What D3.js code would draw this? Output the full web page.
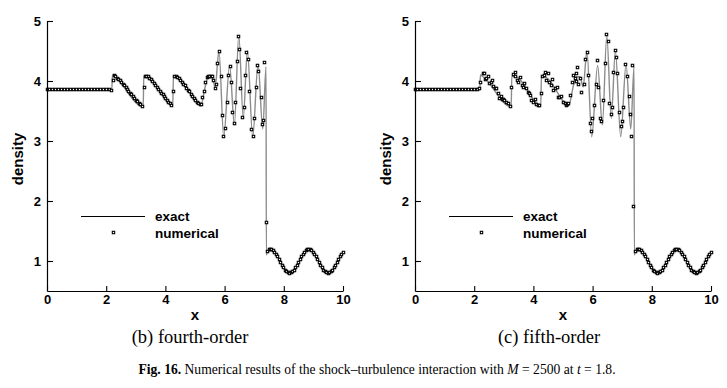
<!DOCTYPE html>
<html><head><meta charset="utf-8">
<script src="https://cdn.jsdelivr.net/npm/d3@7"></script>
<style>body{margin:0;background:#fff}svg{display:block}</style>
</head><body>
<script>
// ---- Data ----
const xTicks = [0, 2, 4, 6, 8, 10];
const yTicks = [1, 2, 3, 4, 5];
const xMinor = [0.5, 1, 1.5, 2.5, 3, 3.5, 4.5, 5, 5.5, 6.5, 7, 7.5, 8.5, 9, 9.5];
const yMinor = [0.6, 0.8, 1.2, 1.4, 1.6, 1.8, 2.2, 2.4, 2.6, 2.8, 3.2, 3.4, 3.6, 3.8, 4.2, 4.4, 4.6, 4.8];
const captions = ["(b) fourth-order", "(c) fifth-order"];
const legendLabels = ["exact", "numerical"];

// exact solution (shared by both panels)
const exactX = [0, 2.19, 2.21, 2.30, 3.25, 3.27, 3.42, 4.25, 4.27, 4.42, 5.17, 5.22, 5.30, 5.38, 5.45, 5.57, 5.68, 5.81, 5.97, 6.17, 6.33, 6.48, 6.63, 6.77, 6.95, 7.13, 7.29, 7.40, 7.41, 7.45, 7.55, 7.71, 7.875, 8.04, 8.2, 8.36, 8.525, 8.69, 8.85, 9.01, 9.175, 9.34, 9.5, 9.66, 9.825, 10];
const exactY = [3.857, 3.857, 4.10, 4.07, 3.57, 4.08, 4.07, 3.59, 4.07, 4.06, 3.61, 3.62, 3.80, 3.98, 4.07, 4.07, 3.90, 4.50, 3.07, 4.26, 3.27, 4.76, 3.38, 4.50, 3.07, 4.28, 3.20, 4.24, 1.10, 1.16, 1.20, 1.14, 1.00, 0.86, 0.80, 0.86, 1.00, 1.14, 1.20, 1.14, 1.00, 0.86, 0.80, 0.86, 1.00, 1.15];

// numerical: pre-shock constant state (both panels)
const flatX = [0, 0.1, 0.2, 0.3, 0.4, 0.5, 0.6, 0.7, 0.8, 0.9, 1.0, 1.1, 1.2, 1.3, 1.4, 1.5, 1.6, 1.7, 1.8, 1.9, 2.0, 2.1];
const flatY = [3.857, 3.857, 3.857, 3.857, 3.857, 3.857, 3.857, 3.857, 3.857, 3.857, 3.857, 3.857, 3.857, 3.857, 3.857, 3.857, 3.857, 3.857, 3.857, 3.857, 3.857, 3.857];

// numerical: downstream of shock (both panels)
const postX = [7.45, 7.5, 7.55, 7.6, 7.65, 7.7, 7.75, 7.8, 7.85, 7.9, 7.95, 8.0, 8.05, 8.1, 8.15, 8.2, 8.25, 8.3, 8.35, 8.4, 8.45, 8.5, 8.55, 8.6, 8.65, 8.7, 8.75, 8.8, 8.85, 8.9, 8.95, 9.0, 9.05, 9.1, 9.15, 9.2, 9.25, 9.3, 9.35, 9.4, 9.45, 9.5, 9.55, 9.6, 9.65, 9.7, 9.75, 9.8, 9.85, 9.9, 9.95, 10.0];
const postY = [1.16, 1.19, 1.20, 1.19, 1.18, 1.15, 1.11, 1.07, 1.02, 0.98, 0.93, 0.89, 0.85, 0.82, 0.81, 0.80, 0.81, 0.82, 0.85, 0.89, 0.93, 0.98, 1.02, 1.07, 1.11, 1.15, 1.18, 1.19, 1.20, 1.19, 1.18, 1.15, 1.11, 1.07, 1.02, 0.98, 0.93, 0.89, 0.85, 0.82, 0.81, 0.80, 0.81, 0.82, 0.85, 0.89, 0.93, 0.98, 1.02, 1.07, 1.11, 1.15];

// numerical: fourth-order, post-shock region x in [2.2, 7.4]
const midBX = [2.18, 2.23, 2.27, 2.32, 2.37, 2.42, 2.47, 2.52, 2.57, 2.62, 2.67, 2.72, 2.77, 2.82, 2.87, 2.92, 2.97, 3.02, 3.07, 3.12, 3.17, 3.22, 3.28, 3.32, 3.37, 3.42, 3.47, 3.52, 3.57, 3.62, 3.67, 3.72, 3.77, 3.82, 3.87, 3.92, 3.97, 4.02, 4.07, 4.12, 4.17, 4.22, 4.27, 4.32, 4.37, 4.42, 4.47, 4.52, 4.57, 4.62, 4.67, 4.72, 4.77, 4.82, 4.87, 4.92, 4.97, 5.02, 5.07, 5.12, 5.17, 5.22, 5.27, 5.31, 5.36, 5.41, 5.45, 5.50, 5.55, 5.60, 5.64, 5.69, 5.74, 5.77, 5.83, 5.89, 5.93, 5.97, 6.03, 6.09, 6.14, 6.19, 6.23, 6.27, 6.33, 6.38, 6.42, 6.47, 6.52, 6.55, 6.60, 6.68, 6.71, 6.75, 6.80, 6.84, 6.90, 6.96, 7.02, 7.07, 7.12, 7.16, 7.23, 7.27, 7.30, 7.36, 7.41];
const midBY = [3.84, 4.00, 4.10, 4.07, 4.05, 4.03, 4.01, 3.98, 3.95, 3.92, 3.89, 3.86, 3.83, 3.80, 3.77, 3.74, 3.71, 3.68, 3.66, 3.63, 3.61, 3.58, 3.90, 4.08, 4.08, 4.07, 4.05, 4.02, 3.99, 3.96, 3.93, 3.90, 3.86, 3.83, 3.80, 3.77, 3.74, 3.71, 3.68, 3.65, 3.62, 3.60, 3.83, 4.07, 4.07, 4.06, 4.04, 4.01, 3.98, 3.95, 3.92, 3.88, 3.85, 3.82, 3.78, 3.75, 3.71, 3.68, 3.65, 3.62, 3.61, 3.61, 3.72, 3.82, 3.97, 4.06, 4.07, 4.07, 4.07, 4.07, 4.00, 3.87, 3.94, 4.30, 4.49, 4.08, 3.43, 3.08, 3.20, 3.64, 4.10, 4.24, 3.98, 3.48, 3.29, 3.65, 4.32, 4.74, 4.53, 3.88, 3.40, 3.56, 4.09, 4.48, 4.36, 3.83, 3.19, 3.08, 3.37, 3.90, 4.26, 4.16, 3.73, 3.27, 3.34, 4.31, 1.64];

// numerical: fifth-order, post-shock region x in [2.2, 7.4]
const midCX = [2.17, 2.21, 2.30, 2.34, 2.38, 2.43, 2.47, 2.53, 2.57, 2.62, 2.66, 2.71, 2.75, 2.82, 2.86, 2.92, 2.96, 3.00, 3.04, 3.09, 3.16, 3.22, 3.27, 3.33, 3.38, 3.41, 3.47, 3.51, 3.57, 3.62, 3.65, 3.71, 3.76, 3.82, 3.87, 3.91, 3.95, 4.00, 4.07, 4.10, 4.16, 4.21, 4.27, 4.30, 4.36, 4.41, 4.45, 4.51, 4.55, 4.61, 4.65, 4.69, 4.75, 4.80, 4.84, 4.89, 4.94, 5.02, 5.07, 5.11, 5.16, 5.20, 5.25, 5.31, 5.37, 5.41, 5.45, 5.47, 5.50, 5.54, 5.59, 5.64, 5.71, 5.77, 5.82, 5.87, 5.92, 5.95, 6.01, 6.06, 6.12, 6.15, 6.21, 6.25, 6.31, 6.37, 6.43, 6.46, 6.53, 6.57, 6.63, 6.66, 6.72, 6.77, 6.82, 6.84, 6.91, 6.97, 7.00, 7.05, 7.11, 7.18, 7.24, 7.28, 7.30, 7.36, 7.39];
const midCY = [3.87, 3.98, 4.12, 4.13, 4.03, 4.05, 4.08, 3.96, 3.98, 4.01, 3.91, 3.88, 3.87, 3.79, 3.71, 3.74, 3.70, 3.69, 3.67, 3.64, 3.62, 3.57, 3.90, 4.11, 4.08, 4.14, 4.00, 3.98, 4.06, 3.92, 3.90, 3.96, 3.87, 3.81, 3.79, 3.76, 3.68, 3.64, 3.70, 3.61, 3.59, 3.59, 3.79, 4.08, 4.10, 4.14, 4.01, 4.13, 3.97, 3.93, 4.02, 3.84, 3.88, 3.90, 3.73, 3.73, 3.74, 3.65, 3.63, 3.59, 3.61, 3.62, 3.76, 3.98, 4.09, 4.04, 4.12, 3.99, 4.22, 3.95, 4.04, 3.81, 3.95, 4.36, 4.48, 4.10, 3.29, 3.16, 3.37, 3.60, 3.94, 4.34, 3.90, 3.38, 3.33, 3.67, 4.30, 4.77, 4.65, 3.63, 3.44, 3.56, 4.14, 4.51, 4.39, 4.12, 3.48, 3.24, 3.33, 3.56, 4.28, 4.08, 3.74, 3.44, 3.08, 4.26, 1.91];

// ---- Drawing ----
const W = 727, H = 388;
const svg = d3.select("body").append("svg").attr("width", W).attr("height", H);
const zip = (a, b) => a.map((v, i) => [v, b[i]]);
const exact = zip(exactX, exactY);
const flat = zip(flatX, flatY);
const post = zip(postX, postY);

const panels = [
  { r0: 47, r1: 343, num: zip(midBX, midBY), cap: captions[0], capX: 190 },
  { r0: 415, r1: 711, num: zip(midCX, midCY), cap: captions[1], capX: 549 }
];
const sans = "'Liberation Sans', Arial, Helvetica, sans-serif";
const serif = "'Liberation Serif', 'Times New Roman', serif";
const SQ = 2.4;

panels.forEach(p => {
  const x = d3.scaleLinear().domain([0, 10]).range([p.r0, p.r1]);
  const y = d3.scaleLinear().domain([0.5, 5]).range([291, 21]);
  const g = svg.append("g");

  // exact line
  const line = d3.line().x(d => x(d[0])).y(d => y(d[1])).curve(d3.curveMonotoneX);
  g.append("path").datum(exact).attr("d", line)
    .attr("fill", "none").attr("stroke", "#8c8c8c").attr("stroke-width", 1.4);

  // numerical squares
  const pts = flat.concat(p.num, post);
  g.append("g").selectAll("rect").data(pts).enter().append("rect")
    .attr("x", d => Math.floor(x(d[0])) + 0.5 - SQ / 2)
    .attr("y", d => Math.floor(y(d[1])) + 0.5 - SQ / 2)
    .attr("width", SQ).attr("height", SQ)
    .attr("fill", "#fff").attr("stroke", "#000").attr("stroke-width", 1.1);

  // axes
  const gx = g.append("g").attr("transform", "translate(0,291)");
  gx.call(d3.axisBottom(x).tickValues(xMinor).tickSize(-3).tickSizeOuter(0).tickFormat(""));
  gx.call(d3.axisBottom(x).tickValues(xTicks).tickSize(-5).tickSizeOuter(0).tickPadding(4).tickFormat(d3.format("d")));
  const gy = g.append("g").attr("transform", `translate(${p.r0},0)`);
  gy.call(d3.axisLeft(y).tickValues(yMinor).tickSize(-3.5).tickSizeOuter(0).tickFormat(""));
  gy.call(d3.axisLeft(y).tickValues(yTicks).tickSize(-6).tickSizeOuter(0).tickPadding(6).tickFormat(d3.format("d")));
  g.selectAll(".domain").attr("stroke", "#000").attr("stroke-width", 1.2);
  g.selectAll(".tick line").attr("stroke", "#000").attr("stroke-width", 1.1);
  g.selectAll(".tick text").attr("fill", "#000")
    .style("font-family", sans).style("font-weight", "bold").style("font-size", "13px");

  // axis titles
  g.append("text").attr("x", (p.r0 + p.r1) / 2).attr("y", 320).attr("text-anchor", "middle")
    .style("font-family", sans).style("font-weight", "bold").style("font-size", "15px").text("x");
  g.append("text").attr("transform", `translate(${p.r0 - 24},159) rotate(-90)`).attr("text-anchor", "middle")
    .style("font-family", sans).style("font-weight", "bold").style("font-size", "15px").text("density");

  // legend
  const lx = p.r0;
  g.append("line").attr("x1", lx + 34).attr("x2", lx + 98).attr("y1", 216.5).attr("y2", 216.5)
    .attr("stroke", "#000").attr("stroke-width", 1);
  g.append("rect").attr("x", lx + 66.5 - SQ / 2).attr("y", 232.5 - SQ / 2).attr("width", SQ).attr("height", SQ)
    .attr("fill", "#fff").attr("stroke", "#000").attr("stroke-width", 1.1);
  g.append("text").attr("x", lx + 108).attr("y", 220.5)
    .style("font-family", sans).style("font-weight", "bold").style("font-size", "13.5px").text(legendLabels[0]);
  g.append("text").attr("x", lx + 108).attr("y", 237.5)
    .style("font-family", sans).style("font-weight", "bold").style("font-size", "13.5px").text(legendLabels[1]);

  // caption
  g.append("text").attr("x", p.capX).attr("y", 343).attr("text-anchor", "middle")
    .style("font-family", serif).style("font-size", "18.5px").text(p.cap);
});

// figure caption
const fc = svg.append("text").attr("x", 377).attr("y", 374).attr("text-anchor", "middle")
  .style("font-family", serif).style("font-size", "13.6px");
fc.append("tspan").style("font-weight", "bold").text("Fig. 16.");
fc.append("tspan").text(" Numerical results of the shock\u2013turbulence interaction with ");
fc.append("tspan").style("font-style", "italic").text("M");
fc.append("tspan").text(" = 2500 at ");
fc.append("tspan").style("font-style", "italic").text("t");
fc.append("tspan").text(" = 1.8.");
</script>
</body></html>
